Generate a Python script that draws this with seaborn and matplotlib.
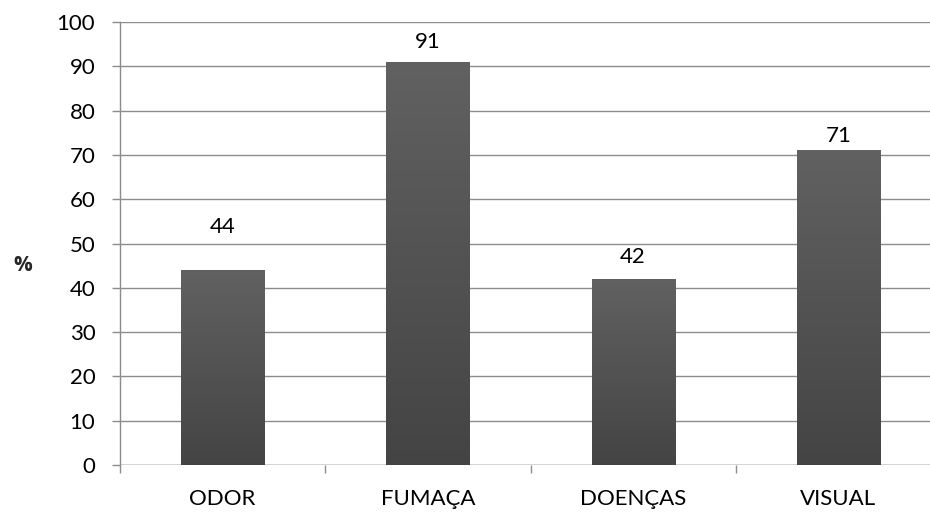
import numpy as np
import pandas as pd
import matplotlib
matplotlib.use("Agg")
import matplotlib.pyplot as plt
import seaborn as sns

categories = ["ODOR", "FUMAÇA", "DOENÇAS", "VISUAL"]
values = [44, 91, 42, 71]
y_ticks = list(range(0, 101, 10))

df = pd.DataFrame({"categoria": categories, "percentual": values})

sns.set_theme(style="white")
plt.rcParams["font.family"] = ["Lato", "DejaVu Sans"]

FS = 16
fig = plt.figure(figsize=(9.3, 5.12), dpi=100)
ax = fig.add_axes([120 / 930, 47 / 512, 821 / 930, 443 / 512])

sns.barplot(data=df, x="categoria", y="percentual", ax=ax, width=0.405,
            color="#555555", saturation=1, zorder=3)

ax.set_ylim(0, 100)
ax.set_xlim(-0.5, len(categories) - 0.5)
ax.set_yticks(y_ticks)
ax.set_yticklabels([str(t) for t in y_ticks], fontsize=FS, color="#000000")

grid_color = "#8c8c8c"
ax.yaxis.grid(True, color=grid_color, linewidth=1.0, zorder=0)
ax.set_axisbelow(True)
for side in ["top", "right", "bottom"]:
    ax.spines[side].set_visible(False)
ax.spines["left"].set_color(grid_color)
ax.spines["left"].set_linewidth(1.0)
ax.axhline(0, color=grid_color, linewidth=1.0, zorder=1)

ax.tick_params(axis="y", which="major", left=True, length=5.8, width=1,
               color=grid_color, pad=12)
# Category labels centred under bars, tick marks at category boundaries
ax.set_xticks(range(len(categories)))
ax.set_xticklabels(categories, fontsize=FS, color="#000000")
ax.tick_params(axis="x", which="major", bottom=False, length=0, pad=17)
ax.set_xticks(np.arange(-0.5, len(categories) + 0.5, 1.0), minor=True)
ax.tick_params(axis="x", which="minor", bottom=True, length=5.8, width=1,
               color=grid_color)

ax.set_xlabel("")
ax.set_ylabel("%", fontsize=15, fontweight="bold", rotation=0,
              family=["Open Sans", "DejaVu Sans"],
              labelpad=0, va="center", ha="center")
ax.yaxis.set_label_coords(-0.119, 0.451)

# Vertical gradient fill for each bar
grad = np.linspace(0, 1, 256).reshape(-1, 1)
cmap = matplotlib.colors.LinearSegmentedColormap.from_list(
    "barfill", ["#444444", "#616161"])
for patch in ax.patches:
    x0, y0 = patch.get_x(), patch.get_y()
    w, h = patch.get_width(), patch.get_height()
    im = ax.imshow(grad, extent=[x0, x0 + w, y0, y0 + h], origin="lower",
                   cmap=cmap, aspect="auto", zorder=4)
    im.set_clip_path(patch)
    patch.set_edgecolor("none")

# Value labels above the bars (points of clearance per bar)
label_offsets = [24, 7, 8.5, 3]
for i, (v, off) in enumerate(zip(values, label_offsets)):
    ax.annotate(str(v), xy=(i, v), xytext=(0, off), textcoords="offset points",
                ha="center", va="bottom", fontsize=FS, color="#000000")

ax.set_xlim(-0.5, len(categories) - 0.5)
ax.set_ylim(0, 100)

fig.savefig("out.png", dpi=100)
